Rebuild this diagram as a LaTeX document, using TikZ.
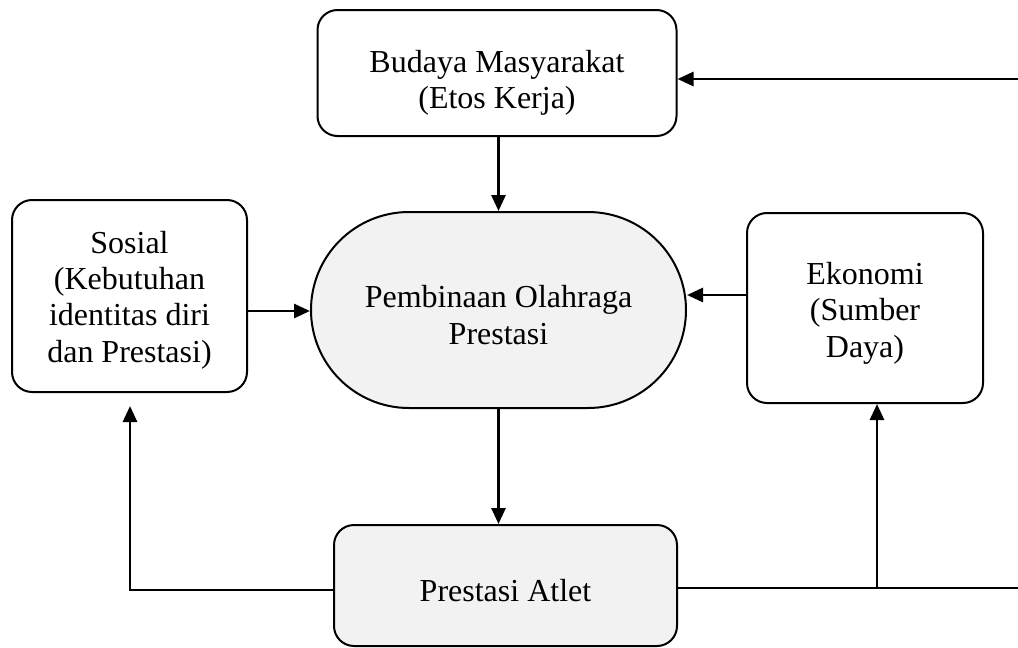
\documentclass[tikz,border=0pt]{standalone}
\usepackage{fontspec}
\setmainfont{Liberation Serif}
\usetikzlibrary{arrows.meta}
\begin{document}
\begin{tikzpicture}[x=0.5pt,y=-0.5pt,
  box/.style={draw,line width=1pt,rounded corners=10pt,inner sep=0pt},
  white/.style={fill=white},
  grey/.style={fill=black!5},
  label text/.style={font=\fontsize{16}{18.2}\selectfont,align=center,inner sep=0pt},
  conn/.style={line width=1.4pt},
  arr/.style={conn,-{Triangle[length=8pt,width=7pt]}}]
\useasboundingbox (0,0) rectangle (1018,648);

% boxes
\node[box,white,minimum width=179.5pt,minimum height=63pt] (budaya) at (497,73) {};
\node[box,white,minimum width=117.5pt,minimum height=96pt] (sosial) at (129.5,296) {};
\node[box,grey,rounded corners=49pt,minimum width=187.5pt,minimum height=98pt] (bina) at (498.5,310) {};
\node[box,white,minimum width=118pt,minimum height=95pt] (ekonomi) at (865,308) {};
\node[box,grey,minimum width=171.5pt,minimum height=60.5pt] (atlet) at (505.5,585.5) {};

% texts
\node[label text] (budayaT) at ([yshift=-5pt]budaya.center) {Budaya Masyarakat\\(Etos Kerja)};
\node[label text] (sosialT) at ([yshift=-2pt]sosial.center) {Sosial\\(Kebutuhan\\identitas diri\\dan Prestasi)};
\node[label text] (binaT) at ([yshift=-2.5pt]bina.center) {Pembinaan Olahraga\\Prestasi};
\node[label text] (ekonomiT) at ([yshift=-2.5pt]ekonomi.center) {Ekonomi\\(Sumber\\Daya)};
\node[label text] (atletT) at ([yshift=-2.5pt]atlet.center) {Prestasi Atlet};

% connectors
\coordinate (inR) at (1018,79);
\coordinate (outR) at (1018,588);
\coordinate (cornerL) at (130,590);
\coordinate (branch) at (877,588);

\draw[arr] (inR) -- (inR -| budaya.east);
\draw[arr] (budaya.south -| bina.north) -- (bina.north);
\draw[arr] (sosial.east |- 0,311) -- (bina.west |- 0,311);
\draw[arr] (ekonomi.west |- 0,295) -- (bina.east |- 0,295);
\draw[arr] (bina.south) -- (bina.south |- atlet.north);
\draw[arr,shorten >=6.5pt] (atlet.west |- cornerL) -- (cornerL) -- (cornerL |- sosial.south);
\draw[conn] (atlet.east |- outR) -- (outR);
\draw[arr] (branch) -- (branch |- ekonomi.south);
\end{tikzpicture}
\end{document}
